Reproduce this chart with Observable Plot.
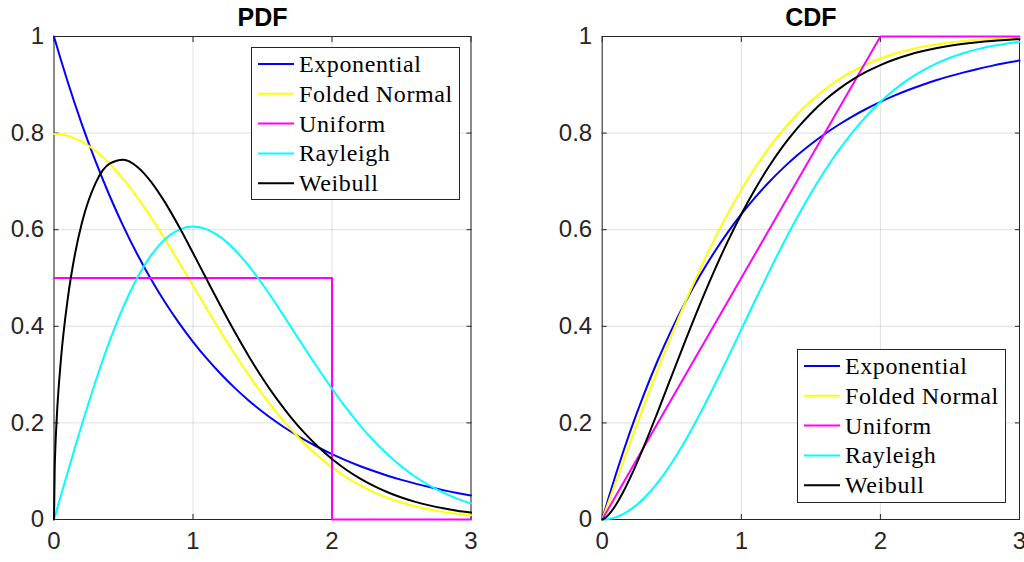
<!DOCTYPE html>
<html><head><meta charset="utf-8">
<script src="https://cdn.jsdelivr.net/npm/d3@7"></script>
<script src="https://cdn.jsdelivr.net/npm/@observablehq/plot@0.6"></script>
<style>
html,body{margin:0;padding:0;background:#fff;width:1024px;height:562px;overflow:hidden;}
#wrap{position:relative;width:1024px;height:562px;}
.panel{position:absolute;top:0;}
</style></head><body><div id="wrap"></div>
<script>
// ---- data ----
const seriesNames = ["Exponential", "Folded Normal", "Uniform", "Rayleigh", "Weibull"];
const seriesColors = ["#0000ff", "#ffff00", "#ff00ff", "#00ffff", "#000000"];
const xTicks = [0, 1, 2, 3];
const xTickLabels = ["0", "1", "2", "3"];
const yTicks = [0, 0.2, 0.4, 0.6, 0.8, 1];
const yTickLabels = ["0", "0.2", "0.4", "0.6", "0.8", "1"];

const xs = [0, 0.005, 0.01, 0.02, 0.05, 0.1, 0.15, 0.2, 0.3, 0.4, 0.5, 0.6, 0.7, 0.8, 0.9, 1.0,
  1.1, 1.2, 1.3, 1.4, 1.5, 1.6, 1.7, 1.8, 1.9, 2.0, 2.1, 2.2, 2.3, 2.4, 2.5, 2.6, 2.7, 2.8, 2.9, 3.0];

const pdfExponential = [1, 0.9950, 0.9900, 0.9802, 0.9512, 0.9048, 0.8607, 0.8187, 0.7408, 0.6703, 0.6065, 0.5488, 0.4966, 0.4493, 0.4066, 0.3679,
  0.3329, 0.3012, 0.2725, 0.2466, 0.2231, 0.2019, 0.1827, 0.1653, 0.1496, 0.1353, 0.1225, 0.1108, 0.1003, 0.0907, 0.0821, 0.0743, 0.0672, 0.0608, 0.0550, 0.0498];
const pdfFoldedNormal = [0.7979, 0.7979, 0.7979, 0.7977, 0.7969, 0.7939, 0.7890, 0.7821, 0.7628, 0.7366, 0.7041, 0.6664, 0.6245, 0.5794, 0.5322, 0.4839,
  0.4357, 0.3884, 0.3427, 0.2995, 0.2590, 0.2218, 0.1881, 0.1579, 0.1312, 0.1080, 0.0880, 0.0710, 0.0567, 0.0448, 0.0351, 0.0272, 0.0208, 0.0158, 0.0119, 0.0089];
const pdfRayleigh = [0, 0.0050, 0.0100, 0.0200, 0.0499, 0.0995, 0.1483, 0.1960, 0.2868, 0.3692, 0.4412, 0.5012, 0.5479, 0.5809, 0.6003, 0.6065,
  0.6007, 0.5841, 0.5584, 0.5254, 0.4870, 0.4449, 0.4008, 0.3562, 0.3125, 0.2707, 0.2315, 0.1956, 0.1633, 0.1347, 0.1099, 0.0885, 0.0705, 0.0556, 0.0433, 0.0333];
const pdfWeibull = [0, 0.1060, 0.1499, 0.2115, 0.3317, 0.4596, 0.5482, 0.6134, 0.6971, 0.7366, 0.7448, 0.7300, 0.6987, 0.6560, 0.6059, 0.5518,
  0.4963, 0.4414, 0.3885, 0.3386, 0.2926, 0.2507, 0.2132, 0.1799, 0.1507, 0.1254, 0.1036, 0.0851, 0.0695, 0.0564, 0.0455, 0.0365, 0.0292, 0.0232, 0.0183, 0.0144];
const pdfUniformX = [0, 2, 2, 3];
const pdfUniformY = [0.5, 0.5, 0, 0];

const cdfExponential = [0, 0.0050, 0.0100, 0.0198, 0.0488, 0.0952, 0.1393, 0.1813, 0.2592, 0.3297, 0.3935, 0.4512, 0.5034, 0.5507, 0.5934, 0.6321,
  0.6671, 0.6988, 0.7275, 0.7534, 0.7769, 0.7981, 0.8173, 0.8347, 0.8504, 0.8647, 0.8775, 0.8892, 0.8997, 0.9093, 0.9179, 0.9257, 0.9328, 0.9392, 0.9450, 0.9502];
const cdfFoldedNormal = [0, 0.0040, 0.0080, 0.0160, 0.0399, 0.0797, 0.1192, 0.1585, 0.2358, 0.3108, 0.3829, 0.4515, 0.5161, 0.5763, 0.6319, 0.6827,
  0.7287, 0.7699, 0.8064, 0.8385, 0.8664, 0.8904, 0.9109, 0.9281, 0.9426, 0.9545, 0.9643, 0.9722, 0.9786, 0.9836, 0.9876, 0.9907, 0.9931, 0.9949, 0.9963, 0.9973];
const cdfRayleigh = [0, 0.0000, 0.0000, 0.0002, 0.0012, 0.0050, 0.0112, 0.0198, 0.0440, 0.0769, 0.1175, 0.1647, 0.2173, 0.2739, 0.3330, 0.3935,
  0.4539, 0.5132, 0.5704, 0.6247, 0.6753, 0.7220, 0.7643, 0.8021, 0.8355, 0.8647, 0.8897, 0.9111, 0.9290, 0.9439, 0.9561, 0.9660, 0.9739, 0.9802, 0.9851, 0.9889];
const cdfWeibull = [0, 0.0004, 0.0010, 0.0028, 0.0111, 0.0311, 0.0564, 0.0856, 0.1515, 0.2235, 0.2978, 0.3717, 0.4433, 0.5111, 0.5742, 0.6321,
  0.6845, 0.7314, 0.7729, 0.8092, 0.8407, 0.8679, 0.8910, 0.9106, 0.9271, 0.9409, 0.9523, 0.9617, 0.9694, 0.9757, 0.9808, 0.9849, 0.9882, 0.9908, 0.9928, 0.9945];
const cdfUniformX = [0, 2, 3];
const cdfUniformY = [0, 1, 1];

// ---- build ----
function rows(name, xArr, yArr) {
  return xArr.map((x, i) => ({series: name, x, y: yArr[i]}));
}
const pdfData = [
  rows("Exponential", xs, pdfExponential),
  rows("Folded Normal", xs, pdfFoldedNormal),
  rows("Uniform", pdfUniformX, pdfUniformY),
  rows("Rayleigh", xs, pdfRayleigh),
  rows("Weibull", xs, pdfWeibull)
];
const cdfData = [
  rows("Exponential", xs, cdfExponential),
  rows("Folded Normal", xs, cdfFoldedNormal),
  rows("Uniform", cdfUniformX, cdfUniformY),
  rows("Rayleigh", xs, cdfRayleigh),
  rows("Weibull", xs, cdfWeibull)
];

const INK = "#262626";
const blank = () => "";

function panel(title, data, marginLeft, marginRight) {
  const lines = data.map((d, i) => Plot.line(d, {
    x: "x", y: "y", stroke: seriesColors[i], strokeWidth: 2,
    curve: seriesNames[i] === "Uniform" ? "linear" : "monotone-x"
  }));
  return Plot.plot({
    width: 512, height: 562,
    marginTop: 36, marginBottom: 43, marginLeft, marginRight,
    x: {domain: [0, 3]},
    y: {domain: [0, 1]},
    style: {fontFamily: "'Liberation Sans', Arial, sans-serif", fontSize: "24px", color: INK, background: "transparent", overflow: "visible"},
    marks: [
      Plot.gridX(xTicks, {stroke: INK, strokeOpacity: 0.15}),
      Plot.gridY(yTicks, {stroke: INK, strokeOpacity: 0.15}),
      Plot.frame({stroke: INK, strokeWidth: 1}),
      Plot.axisX(xTicks, {anchor: "bottom", tickSize: -5, tickFormat: blank, label: null, stroke: INK}),
      Plot.axisX(xTicks, {anchor: "top", tickSize: -5, tickFormat: blank, label: null, stroke: INK}),
      Plot.axisY(yTicks, {anchor: "left", tickSize: -5, tickFormat: blank, label: null, stroke: INK}),
      Plot.axisY(yTicks, {anchor: "right", tickSize: -5, tickFormat: blank, label: null, stroke: INK}),
      ...lines,
      Plot.axisX(xTicks, {anchor: "bottom", tickSize: 0, tickPadding: 12, tickFormat: d => xTickLabels[xTicks.indexOf(d)], label: null, fill: INK}),
      Plot.axisY(yTicks, {anchor: "left", tickSize: 0, tickPadding: 10, tickFormat: d => yTickLabels[yTicks.indexOf(d)], label: null, fill: INK}),
      Plot.text([title], {frameAnchor: "top", lineAnchor: "bottom", dy: -11, fontWeight: "bold", fontSize: 25, fill: "#000"})
    ]
  });
}

function legend(left, top, w, h) {
  const svg = d3.create("svg")
    .attr("width", w + 2).attr("height", h + 2)
    .style("position", "absolute").style("left", left + "px").style("top", top + "px");
  svg.append("rect").attr("x", 0.5).attr("y", 0.5).attr("width", w).attr("height", h)
    .attr("fill", "#fff").attr("stroke", INK).attr("stroke-width", 1);
  seriesNames.forEach((name, i) => {
    const cy = 17 + i * 29.8;
    svg.append("line").attr("x1", 7).attr("x2", 43).attr("y1", cy).attr("y2", cy)
      .attr("stroke", seriesColors[i]).attr("stroke-width", 2);
    svg.append("text").attr("x", 48).attr("y", cy + 8)
      .attr("font-family", "'Liberation Serif', 'Times New Roman', serif").attr("font-size", 24)
      .attr("letter-spacing", "0.6px")
      .attr("fill", "#000").text(name);
  });
  return svg.node();
}

const wrap = document.getElementById("wrap");
const left = panel("PDF", pdfData, 53.5, 41.5);
left.classList.add("panel"); left.style.left = "0px";
const right = panel("CDF", cdfData, 89.7, 5);
right.classList.add("panel"); right.style.left = "512px";
wrap.appendChild(left);
wrap.appendChild(right);
wrap.appendChild(legend(251, 47, 208, 152));
wrap.appendChild(legend(797, 349, 208, 153));
</script></body></html>
